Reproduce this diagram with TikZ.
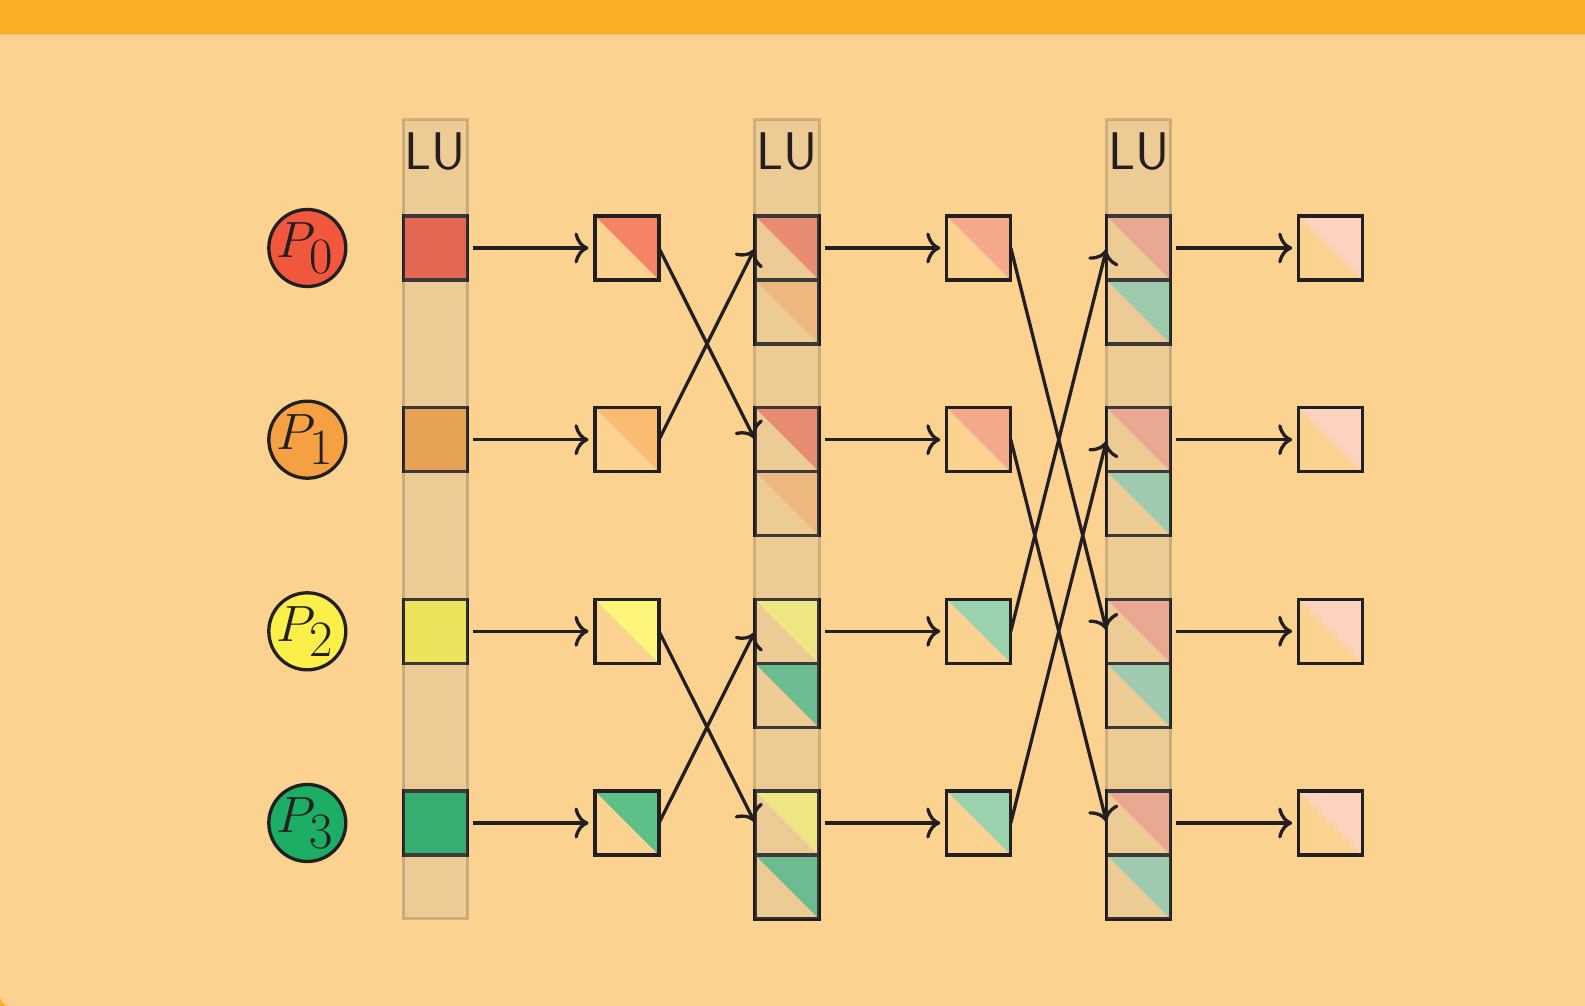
\RequirePackage{fix-cm}
\documentclass[tikz,border=0pt]{standalone}
\usetikzlibrary{arrows.meta}
\definecolor{bgpanel}{HTML}{FCD290}
\definecolor{topbar}{HTML}{FAAE28}
\definecolor{ink}{HTML}{231F20}
\definecolor{bandgray}{RGB}{173,173,173}
% process colours
\definecolor{pA}{HTML}{F0573D}
\definecolor{pB}{HTML}{F5A043}
\definecolor{pC}{HTML}{FBF04A}
\definecolor{pD}{HTML}{1BAE64}
% stage 2 colours
\definecolor{sA}{HTML}{F58466}
\definecolor{sB}{HTML}{FBBB73}
\definecolor{sC}{HTML}{FEF57B}
\definecolor{sD}{HTML}{5EC089}
% stage 4 colours
\definecolor{tA}{HTML}{F6A88C}
\definecolor{tB}{HTML}{9BD3AE}
% stage 6 colour
\definecolor{uA}{HTML}{FDD3BF}
\newcommand\halfsq[4]{%
  \fill[#3] (#1-32,#2-32) -- (#1+32,#2-32) -- (#1+32,#2+32) -- cycle;
  \node[sq] (#4) at (#1,#2) {};}
\newcommand\lubandat[1]{%
  \fill[bandgray, fill opacity=0.19] (#1-32.2,119.8) rectangle (#1+32.2,918.5);
  \draw[black, draw opacity=0.16, line width=3pt] (#1-32.2,119.8) rectangle (#1+32.2,918.5);}
\begin{document}
\begin{tikzpicture}[x=1pt,y=-1pt,
  sq/.style={rectangle, draw=ink, line width=3.3pt, minimum size=64pt, inner sep=0pt, outer sep=0pt},
  proc/.style={circle, draw=ink, line width=3.3pt, minimum size=77pt, inner sep=0pt},
  flow/.style={draw=ink, line width=3.3pt, -{To[length=14pt,width=31pt]}},
  hflow/.style={flow, shorten <=5.5pt, shorten >=6.5pt},
  lulabel/.style={font=\sffamily\fontsize{53}{60}\selectfont, text=ink, inner sep=0pt, anchor=base},
  plabel/.style={font=\fontsize{51}{60}\selectfont, text=ink, inner sep=0pt}]
\useasboundingbox (0,0) rectangle (1585,1006);
% background
\fill[topbar] (0,0) rectangle (1585,1006);
\fill[bgpanel] (0,34.3) -- (1585,34.3) -- (1585,1006) -- (10,1006) .. controls (4.5,1006) and (0,1001.5) .. (0,996) -- cycle;
% coordinates
\def\Ca{435.3}\def\Cb{627}\def\Cc{787}\def\Cd{978.8}\def\Ce{1138.7}\def\Cf{1330.7}
\def\Ra{248}\def\Rb{439.7}\def\Rc{631.3}\def\Rd{823}
% process circles
\node[proc, fill=pA] (p0) at (307.3,\Ra) {};
\node[proc, fill=pB] (p1) at (307.3,\Rb) {};
\node[proc, fill=pC] (p2) at (307.3,\Rc) {};
\node[proc, fill=pD] (p3) at (307.3,\Rd) {};
\node[plabel] (l0) at (305,\Ra) {$P_{\textstyle 0}$};
\node[plabel] (l1) at (305,\Rb) {$P_{\textstyle 1}$};
\node[plabel] (l2) at (305,\Rc) {$P_{\textstyle 2}$};
\node[plabel] (l3) at (305,\Rd) {$P_{\textstyle 3}$};
% column 1
\node[sq, fill=pA] (c1r0) at (\Ca,\Ra) {};
\node[sq, fill=pB] (c1r1) at (\Ca,\Rb) {};
\node[sq, fill=pC] (c1r2) at (\Ca,\Rc) {};
\node[sq, fill=pD] (c1r3) at (\Ca,\Rd) {};
% column 2
\halfsq{\Cb}{\Ra}{sA}{c2r0}
\halfsq{\Cb}{\Rb}{sB}{c2r1}
\halfsq{\Cb}{\Rc}{sC}{c2r2}
\halfsq{\Cb}{\Rd}{sD}{c2r3}
% column 3
\halfsq{\Cc}{\Ra}{sA}{c3r0a}
\halfsq{\Cc}{\Ra+64}{sB}{c3r0b}
\halfsq{\Cc}{\Rb}{sA}{c3r1a}
\halfsq{\Cc}{\Rb+64}{sB}{c3r1b}
\halfsq{\Cc}{\Rc}{sC}{c3r2a}
\halfsq{\Cc}{\Rc+64}{sD}{c3r2b}
\halfsq{\Cc}{\Rd}{sC}{c3r3a}
\halfsq{\Cc}{\Rd+64}{sD}{c3r3b}
% column 4
\halfsq{\Cd}{\Ra}{tA}{c4r0}
\halfsq{\Cd}{\Rb}{tA}{c4r1}
\halfsq{\Cd}{\Rc}{tB}{c4r2}
\halfsq{\Cd}{\Rd}{tB}{c4r3}
% column 5
\halfsq{\Ce}{\Ra}{tA}{c5r0a}
\halfsq{\Ce}{\Ra+64}{tB}{c5r0b}
\halfsq{\Ce}{\Rb}{tA}{c5r1a}
\halfsq{\Ce}{\Rb+64}{tB}{c5r1b}
\halfsq{\Ce}{\Rc}{tA}{c5r2a}
\halfsq{\Ce}{\Rc+64}{tB}{c5r2b}
\halfsq{\Ce}{\Rd}{tA}{c5r3a}
\halfsq{\Ce}{\Rd+64}{tB}{c5r3b}
% column 6
\halfsq{\Cf}{\Ra}{uA}{c6r0}
\halfsq{\Cf}{\Rb}{uA}{c6r1}
\halfsq{\Cf}{\Rc}{uA}{c6r2}
\halfsq{\Cf}{\Rd}{uA}{c6r3}
% LU bands
\lubandat{\Ca}
\lubandat{\Cc}
\lubandat{\Ce}
\node[lulabel] (lu1) at (\Ca,170) {LU};
\node[lulabel] (lu2) at (\Cc,170) {LU};
\node[lulabel] (lu3) at (\Ce,170) {LU};
% arrows col1 -> col2
\draw[hflow] (c1r0.east) -- (c2r0.west);
\draw[hflow] (c1r1.east) -- (c2r1.west);
\draw[hflow] (c1r2.east) -- (c2r2.west);
\draw[hflow] (c1r3.east) -- (c2r3.west);
% col2 -> col3 butterflies
\draw[flow, shorten >=1.5pt] (c2r0.east) -- (c3r1a.west);
\draw[flow, shorten >=1.5pt] (c2r1.east) -- (c3r0a.west);
\draw[flow, shorten >=1.5pt] (c2r2.east) -- (c3r3a.west);
\draw[flow, shorten >=1.5pt] (c2r3.east) -- (c3r2a.west);
% col3 -> col4
\draw[hflow] (c3r0a.east) -- (c4r0.west);
\draw[hflow] (c3r1a.east) -- (c4r1.west);
\draw[hflow] (c3r2a.east) -- (c4r2.west);
\draw[hflow] (c3r3a.east) -- (c4r3.west);
% col4 -> col5 butterflies
\draw[flow, shorten >=1.5pt] (c4r0.east) -- (c5r2a.west);
\draw[flow, shorten >=1.5pt] (c4r1.east) -- (c5r3a.west);
\draw[flow, shorten >=1.5pt] (c4r2.east) -- (c5r0a.west);
\draw[flow, shorten >=1.5pt] (c4r3.east) -- (c5r1a.west);
% col5 -> col6
\draw[hflow] (c5r0a.east) -- (c6r0.west);
\draw[hflow] (c5r1a.east) -- (c6r1.west);
\draw[hflow] (c5r2a.east) -- (c6r2.west);
\draw[hflow] (c5r3a.east) -- (c6r3.west);
\end{tikzpicture}
\end{document}
